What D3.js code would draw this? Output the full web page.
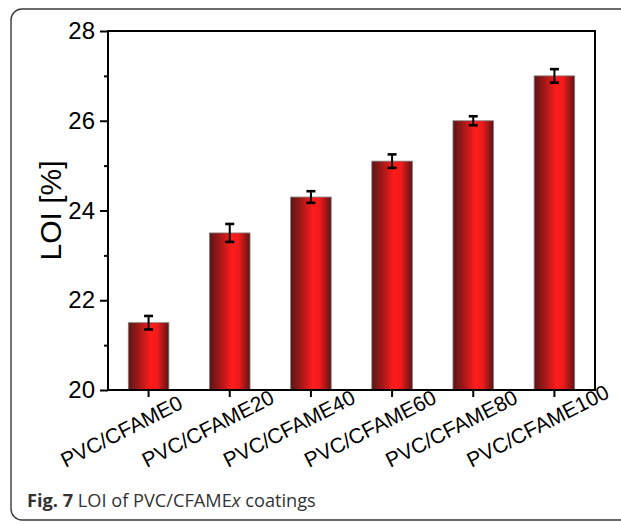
<!DOCTYPE html>
<html>
<head>
<meta charset="utf-8">
<script src="https://cdn.jsdelivr.net/npm/d3@7/dist/d3.min.js"></script>
<style>
  html, body { margin: 0; padding: 0; background: #fff; }
  svg { display: block; }
</style>
</head>
<body>
<svg id="chart" width="621" height="524"></svg>
<script>
/* LOI bar chart with error bars. */

const categories = ["PVC/CFAME0", "PVC/CFAME20", "PVC/CFAME40", "PVC/CFAME60", "PVC/CFAME80", "PVC/CFAME100"];
const loi = [21.5, 23.5, 24.3, 25.1, 26.0, 27.0];
const loiErr = [0.15, 0.2, 0.13, 0.15, 0.1, 0.15];
const yMajor = [20, 22, 24, 26, 28];
const yMinor = [21, 23, 25, 27];

const svg = d3.select("#chart");
const M = { left: 108, right: 595, top: 31, bottom: 390 };

// rounded figure frame (runs off the right edge)
svg.append("rect")
  .attr("x", 11).attr("y", 9).attr("width", 640).attr("height", 511)
  .attr("rx", 11).attr("fill", "none").attr("stroke", "#3a3a3a").attr("stroke-width", 1.4);

const x = d3.scaleBand().domain(categories).range([M.left, M.right])
  .paddingInner(0.5).paddingOuter(0.25);
const y = d3.scaleLinear().domain([20, 28]).range([M.bottom, M.top]);

/* ---------- bar gradient ---------- */
const grad = svg.append("defs").append("linearGradient")
  .attr("id", "barGrad").attr("x1", "0%").attr("x2", "100%").attr("y1", "0%").attr("y2", "0%");
[[0, "#5a1616"], [0.25, "#a01818"], [0.55, "#ff1c1c"], [0.72, "#f01a1a"], [1, "#5e1414"]]
  .forEach(([o, c]) => grad.append("stop").attr("offset", o).attr("stop-color", c));

/* ---------- bars ---------- */
svg.append("g").selectAll("rect")
  .data(categories)
  .join("rect")
  .attr("x", (d) => x(d))
  .attr("y", (d, i) => y(loi[i]))
  .attr("width", x.bandwidth())
  .attr("height", (d, i) => y(20) - y(loi[i]))
  .attr("fill", "url(#barGrad)")
  .attr("stroke", "#808080").attr("stroke-width", 0.8);

/* ---------- error bars ---------- */
const eg = svg.append("g").attr("stroke", "#000");
categories.forEach((c, i) => {
  const cx = x(c) + x.bandwidth() / 2;
  const hi = y(loi[i] + loiErr[i]), lo = y(loi[i] - loiErr[i]);
  eg.append("line").attr("x1", cx).attr("x2", cx).attr("y1", hi).attr("y2", lo).attr("stroke-width", 2);
  [hi, lo].forEach((yy) => eg.append("line")
    .attr("x1", cx - 4.5).attr("x2", cx + 4.5).attr("y1", yy).attr("y2", yy).attr("stroke-width", 2.6));
});

/* ---------- axes ---------- */
const yAxis = svg.append("g").attr("transform", `translate(${M.left},0)`)
  .call(d3.axisLeft(y).tickValues(yMajor).tickSize(8).tickPadding(5).tickFormat(d3.format("d")));
yAxis.select(".domain").remove();
yAxis.selectAll("line").attr("stroke", "#000").attr("stroke-width", 2);
yAxis.selectAll("text").attr("font-family", "Liberation Sans, Arial, sans-serif")
  .attr("font-size", 24).attr("fill", "#000");

svg.append("g").attr("transform", `translate(${M.left},0)`)
  .call(d3.axisLeft(y).tickValues(yMinor).tickSize(4).tickFormat(""))
  .call((g) => g.select(".domain").remove())
  .selectAll("line").attr("stroke", "#000").attr("stroke-width", 2);

const xAxis = svg.append("g").attr("transform", `translate(0,${M.bottom})`)
  .call(d3.axisBottom(x).tickSize(7).tickFormat(""));
xAxis.select(".domain").remove();
xAxis.selectAll("line").attr("stroke", "#000").attr("stroke-width", 2);

// rotated category labels, baseline start fixed left of each tick
svg.append("g").selectAll("text")
  .data(categories)
  .join("text")
  .attr("transform", (d) => `translate(${x(d) + x.bandwidth() / 2 - 83},468) rotate(-27)`)
  .attr("font-family", "Liberation Sans, Arial, sans-serif")
  .attr("font-size", 21)
  .attr("fill", "#000")
  .text((d) => d);

// plot box
svg.append("rect")
  .attr("x", M.left).attr("y", M.top)
  .attr("width", M.right - M.left).attr("height", M.bottom - M.top)
  .attr("fill", "none").attr("stroke", "#000").attr("stroke-width", 2);

/* ---------- titles ---------- */
svg.append("text")
  .attr("transform", `translate(61,${(M.top + M.bottom) / 2}) rotate(-90)`)
  .attr("text-anchor", "middle")
  .attr("font-family", "Liberation Sans, Arial, sans-serif")
  .attr("font-size", 30)
  .attr("fill", "#000")
  .text("LOI [%]");

const cap = svg.append("text")
  .attr("x", 27).attr("y", 507)
  .attr("font-family", "Open Sans, Noto Sans, sans-serif")
  .attr("font-size", 18.2)
  .attr("fill", "#333");
cap.append("tspan").attr("font-weight", "bold").text("Fig. 7");
cap.append("tspan").text(" LOI of PVC/CFAME");
cap.append("tspan").attr("font-style", "italic").text("x");
cap.append("tspan").text(" coatings");
</script>
</body>
</html>
